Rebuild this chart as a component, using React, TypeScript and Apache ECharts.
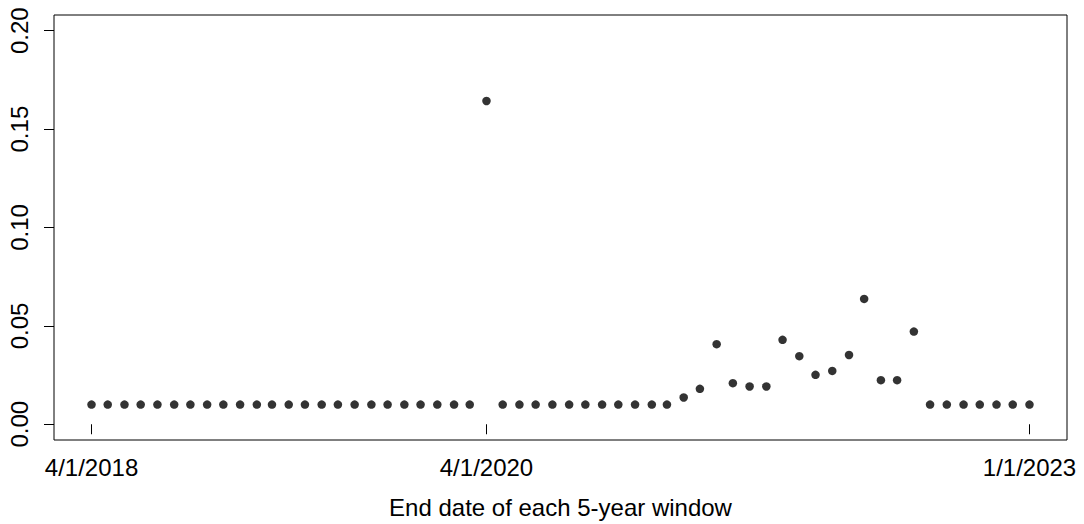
import React, { useEffect, useRef } from "react";
import * as echarts from "echarts";

const endDates: string[] = [
  "2018-04-01", "2018-05-01", "2018-06-01", "2018-07-01", "2018-08-01", "2018-09-01",
  "2018-10-01", "2018-11-01", "2018-12-01", "2019-01-01", "2019-02-01", "2019-03-01",
  "2019-04-01", "2019-05-01", "2019-06-01", "2019-07-01", "2019-08-01", "2019-09-01",
  "2019-10-01", "2019-11-01", "2019-12-01", "2020-01-01", "2020-02-01", "2020-03-01",
  "2020-04-01", "2020-05-01", "2020-06-01", "2020-07-01", "2020-08-01", "2020-09-01",
  "2020-10-01", "2020-11-01", "2020-12-01", "2021-01-01", "2021-02-01", "2021-03-01",
  "2021-04-01", "2021-05-01", "2021-06-01", "2021-07-01", "2021-08-01", "2021-09-01",
  "2021-10-01", "2021-11-01", "2021-12-01", "2022-01-01", "2022-02-01", "2022-03-01",
  "2022-04-01", "2022-05-01", "2022-06-01", "2022-07-01", "2022-08-01", "2022-09-01",
  "2022-10-01", "2022-11-01", "2022-12-01", "2023-01-01",
];

const values: number[] = [
  0.01, 0.01, 0.01, 0.01, 0.01, 0.01,
  0.01, 0.01, 0.01, 0.01, 0.01, 0.01,
  0.01, 0.01, 0.01, 0.01, 0.01, 0.01,
  0.01, 0.01, 0.01, 0.01, 0.01, 0.01,
  0.1643, 0.01, 0.01, 0.01, 0.01, 0.01,
  0.01, 0.01, 0.01, 0.01, 0.01, 0.01,
  0.0136, 0.018, 0.0407, 0.0209, 0.0192, 0.0192,
  0.0429, 0.0346, 0.0251, 0.0271, 0.0352, 0.0637,
  0.0224, 0.0224, 0.0471, 0.01, 0.01, 0.01,
  0.01, 0.01, 0.01, 0.01,
];

const xTickDates: string[] = ["2018-04-01", "2020-04-01", "2023-01-01"];
const xTickLabels: string[] = ["4/1/2018", "4/1/2020", "1/1/2023"];
const yTicks: number[] = [0, 0.05, 0.1, 0.15, 0.2];

const toTs = (s: string) => {
  const [y, m, d] = s.split("-").map(Number);
  return Date.UTC(y, m - 1, d);
};

const FONT = "'Liberation Sans', Arial, Helvetica, sans-serif";

export default function App() {
  const ref = useRef<HTMLDivElement>(null);

  useEffect(() => {
    if (!ref.current) return;
    const chart = echarts.init(ref.current, undefined, { renderer: "svg" });

    const xStart = toTs(endDates[0]);
    const xEnd = toTs(endDates[endDates.length - 1]);
    const xPad = (xEnd - xStart) * 0.04;
    const yMin = 0;
    const yMax = 0.2;
    const yPad = (yMax - yMin) * 0.04;

    const tickTs = xTickDates.map(toTs);

    chart.setOption({
      animation: false,
      backgroundColor: "#ffffff",
      grid: {
        left: 54,
        right: 17,
        top: 15,
        bottom: 84,
        show: true,
        borderColor: "#000000",
        borderWidth: 1,
        backgroundColor: "transparent",
      },
      xAxis: {
        type: "value",
        min: xStart - xPad,
        max: xEnd + xPad,
        name: "End date of each 5-year window",
        nameLocation: "middle",
        nameGap: 55,
        nameTextStyle: { fontFamily: FONT, fontSize: 24, color: "#000000" },
        axisLine: { show: false },
        splitLine: { show: false },
        axisTick: {
          show: true,
          inside: false,
          length: 10,
          customValues: tickTs,
          lineStyle: { color: "#000000", width: 1 },
        },
        axisLabel: {
          show: true,
          customValues: tickTs,
          margin: 15,
          fontFamily: FONT,
          fontSize: 24,
          color: "#000000",
          formatter: (v: number) => {
            const i = tickTs.findIndex((t) => Math.abs(t - v) < 1000);
            return i >= 0 ? xTickLabels[i] : "";
          },
        },
      },
      yAxis: {
        type: "value",
        min: yMin - yPad,
        max: yMax + yPad,
        axisLine: { show: false },
        splitLine: { show: false },
        axisTick: {
          show: true,
          inside: false,
          length: 10,
          customValues: yTicks,
          lineStyle: { color: "#000000", width: 1 },
        },
        axisLabel: {
          show: true,
          customValues: yTicks,
          rotate: 90,
          margin: 23,
          fontFamily: FONT,
          fontSize: 24,
          color: "#000000",
          formatter: (v: number) => v.toFixed(2),
        },
      },
      series: [
        {
          type: "scatter",
          symbol: "circle",
          symbolSize: 8.5,
          itemStyle: { color: "#000000" },
          data: endDates.map((d, i) => [toTs(d), values[i]]),
        },
      ],
    });

    return () => chart.dispose();
  }, []);

  return (
    <div
      ref={ref}
      style={{ position: "fixed", left: 0, top: 0, width: 1084, height: 524 }}
    />
  );
}
